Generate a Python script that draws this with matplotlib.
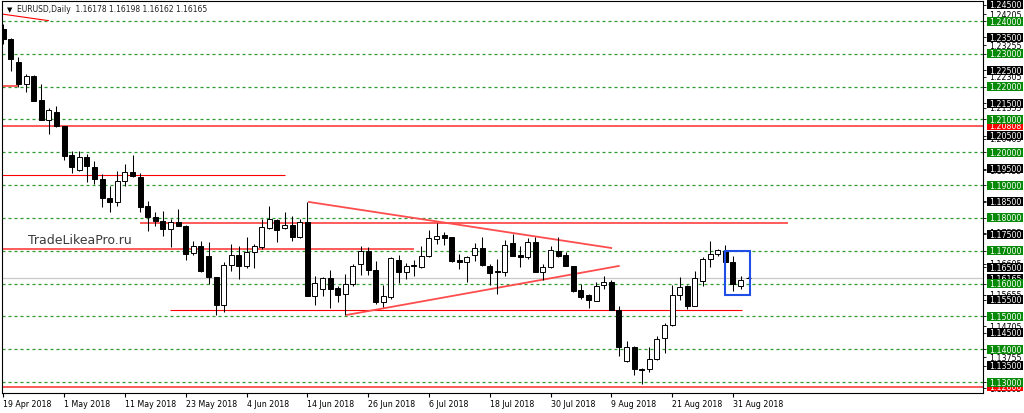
import matplotlib
matplotlib.use("Agg")
import matplotlib.pyplot as plt
from matplotlib.patches import Rectangle
from matplotlib.transforms import blended_transform_factory

# ---- EURUSD daily, 19 Apr 2018 .. 4 Sep 2018 (one value per trading day) ----
open_ = [1.2376, 1.2345, 1.2275, 1.2208, 1.2232, 1.2159, 1.2098, 1.2123, 1.2080, 1.1992,
         1.1946, 1.1986, 1.1955, 1.1919, 1.1861, 1.1849, 1.1913, 1.1940, 1.1925, 1.1836,
         1.1803, 1.1791, 1.1766, 1.1788, 1.1775, 1.1693, 1.1714, 1.1684, 1.1620, 1.1535,
         1.1657, 1.1687, 1.1654, 1.1696, 1.1711, 1.1769, 1.1794, 1.1769, 1.1778, 1.1742,
         1.1788, 1.1562, 1.1584, 1.1617, 1.1587, 1.1568, 1.1599, 1.1660, 1.1699, 1.1642,
         1.1545, 1.1559, 1.1672, 1.1636, 1.1657, 1.1651, 1.1684, 1.1736, 1.1748, 1.1742,
         1.1672, 1.1666, 1.1687, 1.1708, 1.1654, 1.1639, 1.1636, 1.1724, 1.1687, 1.1681,
         1.1727, 1.1636, 1.1651, 1.1699, 1.1687, 1.1654, 1.1581, 1.1565, 1.1547, 1.1596,
         1.1605, 1.1519, 1.1364, 1.1407, 1.1340, 1.1340, 1.1370, 1.1434, 1.1474, 1.1565,
         1.1593, 1.1532, 1.1608, 1.1675, 1.1690, 1.1699, 1.1666, 1.1593, 1.16178]
high = [1.2391, 1.2348, 1.2290, 1.2239, 1.2235, 1.2208, 1.2135, 1.2141, 1.2080, 1.2004,
        1.2004, 1.1995, 1.1973, 1.1934, 1.1897, 1.1943, 1.1964, 1.1992, 1.1937, 1.1852,
        1.1818, 1.1821, 1.1797, 1.1827, 1.1778, 1.1730, 1.1730, 1.1727, 1.1620, 1.1666,
        1.1721, 1.1714, 1.1742, 1.1721, 1.1797, 1.1836, 1.1797, 1.1818, 1.1806, 1.1797,
        1.1849, 1.1623, 1.1620, 1.1642, 1.1593, 1.1629, 1.1660, 1.1714, 1.1711, 1.1669,
        1.1596, 1.1681, 1.1687, 1.1663, 1.1672, 1.1714, 1.1763, 1.1785, 1.1757, 1.1742,
        1.1690, 1.1684, 1.1724, 1.1742, 1.1660, 1.1675, 1.1733, 1.1751, 1.1714, 1.1739,
        1.1742, 1.1660, 1.1714, 1.1742, 1.1696, 1.1654, 1.1599, 1.1568, 1.1605, 1.1623,
        1.1611, 1.1532, 1.1425, 1.1410, 1.1342, 1.1407, 1.1441, 1.1480, 1.1596, 1.1620,
        1.1596, 1.1639, 1.1681, 1.1730, 1.1705, 1.1717, 1.1684, 1.1623, 1.16198]
low = [1.2330, 1.2248, 1.2199, 1.2184, 1.2156, 1.2098, 1.2056, 1.2077, 1.1976, 1.1937,
       1.1943, 1.1909, 1.1903, 1.1833, 1.1818, 1.1836, 1.1897, 1.1925, 1.1818, 1.1760,
       1.1775, 1.1745, 1.1711, 1.1775, 1.1672, 1.1687, 1.1636, 1.1599, 1.1504, 1.1513,
       1.1639, 1.1614, 1.1648, 1.1648, 1.1705, 1.1766, 1.1727, 1.1766, 1.1730, 1.1739,
       1.1562, 1.1535, 1.1562, 1.1525, 1.1545, 1.1504, 1.1593, 1.1626, 1.1626, 1.1538,
       1.1528, 1.1553, 1.1602, 1.1614, 1.1623, 1.1648, 1.1681, 1.1721, 1.1717, 1.1666,
       1.1645, 1.1605, 1.1669, 1.1654, 1.1596, 1.1568, 1.1623, 1.1684, 1.1651, 1.1675,
       1.1636, 1.1611, 1.1648, 1.1681, 1.1654, 1.1574, 1.1553, 1.1525, 1.1547, 1.1584,
       1.1519, 1.1379, 1.1361, 1.1321, 1.1294, 1.1331, 1.1367, 1.1389, 1.1471, 1.1550,
       1.1522, 1.1532, 1.1593, 1.1651, 1.1684, 1.1636, 1.1578, 1.1584, 1.16162]
close = [1.2345, 1.2284, 1.2208, 1.2232, 1.2156, 1.2098, 1.2129, 1.2080, 1.1989, 1.1955,
         1.1986, 1.1958, 1.1919, 1.1861, 1.1849, 1.1913, 1.1940, 1.1928, 1.1833, 1.1803,
         1.1791, 1.1766, 1.1788, 1.1775, 1.1690, 1.1714, 1.1639, 1.1620, 1.1535, 1.1657,
         1.1687, 1.1654, 1.1696, 1.1714, 1.1772, 1.1797, 1.1763, 1.1778, 1.1742, 1.1788,
         1.1562, 1.1602, 1.1617, 1.1584, 1.1565, 1.1599, 1.1654, 1.1699, 1.1642, 1.1545,
         1.1562, 1.1678, 1.1636, 1.1654, 1.1654, 1.1684, 1.1739, 1.1745, 1.1739, 1.1669,
         1.1666, 1.1681, 1.1708, 1.1657, 1.1632, 1.1636, 1.1717, 1.1684, 1.1681, 1.1727,
         1.1636, 1.1651, 1.1702, 1.1684, 1.1654, 1.1578, 1.1559, 1.1550, 1.1593, 1.1605,
         1.1519, 1.1407, 1.1407, 1.1340, 1.1337, 1.1370, 1.1431, 1.1474, 1.1565, 1.1590,
         1.1532, 1.1617, 1.1675, 1.1690, 1.1702, 1.1666, 1.1599, 1.1611, 1.16165]

tick_bars = [0, 8, 16, 24, 32, 40, 48, 56, 64, 72, 80, 88, 96]
tick_labels = ["19 Apr 2018", "1 May 2018", "11 May 2018", "23 May 2018", "4 Jun 2018",
               "14 Jun 2018", "26 Jun 2018", "6 Jul 2018", "18 Jul 2018", "30 Jul 2018",
               "9 Aug 2018", "21 Aug 2018", "31 Aug 2018"]

green_levels = [1.24, 1.23, 1.22, 1.21, 1.20, 1.19, 1.18, 1.17, 1.16, 1.15, 1.14, 1.13]
black_levels = [1.245, 1.235, 1.225, 1.215, 1.205, 1.195, 1.185, 1.175, 1.165, 1.155,
                1.145, 1.135]
auto_levels = [1.24205, 1.23255, 1.22305, 1.21355, 1.20405, 1.19455, 1.18505, 1.17555,
               1.16605, 1.15655, 1.14705, 1.13755, 1.12805]
red_label_levels = [1.20808, 1.12860]
bid = 1.16165

# drawn objects: (bar0, bar1, price0, price1, thick)
red_lines = [
    (-0.1, 6.0, 1.2421, 1.2401, False),
    (-0.2, 2.0, 1.2202, 1.2202, True),
    (-0.2, 130, 1.2081, 1.2081, True),
    (-0.2, 37.1, 1.1931, 1.1931, False),
    (18.0, 103.3, 1.1785, 1.1785, True),
    (-0.2, 54.0, 1.1705, 1.1705, True),
    (21.9, 97.2, 1.1519, 1.1519, False),
    (40.1, 80.1, 1.1849, 1.1708, True),
    (45.1, 81.1, 1.1504, 1.1654, True),
    (-0.2, 130, 1.1286, 1.1286, True),
]
box_bars = (94.9, 98.25)
box_prices = (1.1565, 1.1699)

FS = 5.7
W, H = 1024, 414
fig = plt.figure(figsize=(W / 100, H / 100), dpi=100)
ax = fig.add_axes([2 / W, 20 / H, 981 / W, 392 / H])
ax.set_xlim(-0.17, 128.9)
ax.set_ylim(1.12665, 1.2461)

# levels
for lv in green_levels:
    ax.axhline(lv, color="#2f9a2f", lw=0.9, dashes=(2.4, 2.4), zorder=1)
ax.axhline(bid, color="#c8c8c8", lw=0.9, zorder=1)
for b0, b1, p0, p1, thick in red_lines:
    if thick:
        ax.plot([b0, b1], [p0, p1], color="#ff4d4d", lw=1.3, zorder=2,
                solid_capstyle="butt")
    else:
        ax.plot([b0, b1], [p0, p1], color="#ff0000", lw=0.8, zorder=2,
                solid_capstyle="butt")

# candles
n = len(close)
bars = list(range(n))
ax.vlines(bars, low, high, color="black", lw=0.75, zorder=3)
for i in bars:
    o, c = open_[i], close[i]
    bottom = min(o, c)
    height = max(abs(c - o), 0.00004)
    face = "white" if c > o else "black"
    ax.bar(i, height, bottom=bottom, width=0.66, color=face, edgecolor="black",
           linewidth=0.7, zorder=4)

ax.add_patch(Rectangle((box_bars[0], box_prices[0]), box_bars[1] - box_bars[0],
                       box_prices[1] - box_prices[0], fill=False, ec="#1f4fe6",
                       lw=1.5, zorder=5))

# axes styling
for s in ax.spines.values():
    s.set_color("black")
    s.set_linewidth(0.8)
ax.set_xticks(tick_bars, tick_labels, ha="left", fontsize=FS)
ax.tick_params(axis="x", direction="out", length=3, width=0.8, pad=1.5)
ax.yaxis.tick_right()
ax.set_yticks(sorted(green_levels + black_levels + auto_levels))
ax.tick_params(axis="y", direction="out", length=2.5, width=0.6, labelright=False)

# price scale labels
tr = blended_transform_factory(fig.transFigure, ax.transData)
box_w = 36 / W
box_h = 9 / 3282
x_box = 987 / W
x_txt = 989 / W


def price_label(level, fc, tc, z):
    ax.add_patch(Rectangle((x_box, level - box_h / 2), box_w, box_h, transform=tr,
                           fc=fc, ec="none", clip_on=False, zorder=z))
    ax.text(x_txt, level, f"{level:.5f}", transform=tr, color=tc, fontsize=FS,
            ha="left", va="center", clip_on=False, zorder=z + 0.5)


for lv in auto_levels:
    ax.text(x_txt, lv, f"{lv:.5f}", transform=tr, color="black", fontsize=FS,
            ha="left", va="center", clip_on=False, zorder=6)
price_label(bid, "black", "white", 7)
for lv in red_label_levels:
    price_label(lv, "#ff0000", "white", 7)
for lv in black_levels:
    price_label(lv, "black", "white", 9)
for lv in green_levels:
    price_label(lv, "#078a07", "white", 9)

# header and watermark
fig.text(7 / W, 1 - 10 / H, "\u25bc", fontsize=5.0, ha="left", va="center")
fig.text(17 / W, 1 - 10 / H,
         "EURUSD,Daily  1.16178 1.16198 1.16162 1.16165",
         fontsize=5.5, ha="left", va="center", color="#202020")
fig.text(28 / W, 1 - 241 / H, "TradeLikeaPro.ru", fontsize=9.0, ha="left",
         va="center", color="#3a3a3a")

fig.savefig("out.png", dpi=100)
